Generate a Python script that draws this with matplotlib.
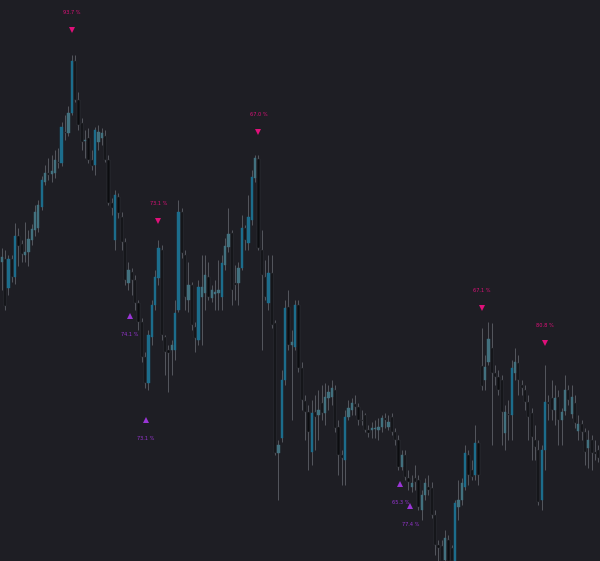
"""
Candlestick chart with swing-high / swing-low probability markers.
"""
import numpy as np
import matplotlib
matplotlib.use("Agg")
import matplotlib.pyplot as plt

opens = [338, 341, 312, 341, 323, 364, 356, 345, 348, 360, 370, 372, 393, 418, 427, 426, 427, 438, 437, 468,
         467, 487, 539, 500, 477, 459, 462, 440, 435, 458, 462, 464, 440, 397, 360, 403, 383, 358, 317, 328,
         320, 297, 278, 243, 217, 263, 295, 322, 350, 263, 250, 250, 250, 290, 388, 345, 300, 315, 273, 260,
         303, 307, 323, 302, 306, 307, 303, 335, 353, 367, 317, 317, 332, 372, 357, 380, 422, 441, 350, 323,
         297, 327, 277, 147, 162, 220, 293, 255, 253, 295, 232, 199, 188, 148, 188, 185, 197, 187, 202, 203,
         210, 173, 145, 140, 183, 190, 196, 193, 180, 185, 170, 170, 171, 170, 173, 182, 173, 183, 168, 160,
         133, 145, 122, 113, 122, 120, 90, 105, 113, 112, 85, 55, 54, 40, 60, 52, 39, 93, 100, 113,
         145, 130, 125, 157, 234, 220, 238, 252, 227, 223, 220, 167, 186, 185, 227, 237, 215, 210, 198, 187,
         160, 150, 100, 150, 198, 202, 190, 203, 180, 189, 210, 186, 197, 169, 176, 168, 152, 160, 148, 150]
highs = [352, 350, 345, 345, 377, 372, 360, 378, 370, 376, 395, 400, 424, 435, 442, 445, 450, 452, 478, 485,
         494, 545, 545, 508, 482, 470, 472, 450, 473, 475, 472, 470, 445, 402, 410, 407, 388, 362, 338, 332,
         325, 300, 282, 248, 270, 300, 330, 360, 355, 265, 255, 260, 300, 400, 392, 350, 338, 318, 278, 320,
         345, 345, 338, 315, 320, 340, 345, 362, 392, 370, 335, 338, 385, 375, 405, 430, 445, 445, 370, 340,
         345, 345, 280, 160, 230, 300, 310, 270, 300, 300, 238, 205, 195, 200, 205, 210, 215, 217, 215, 220,
         215, 180, 150, 190, 200, 202, 205, 197, 190, 187, 175, 178, 180, 182, 185, 187, 185, 187, 172, 165,
         150, 150, 130, 125, 135, 125, 110, 122, 125, 118, 90, 60, 60, 70, 65, 55, 100, 120, 122, 155,
         150, 140, 175, 160, 272, 245, 278, 277, 235, 230, 225, 195, 200, 240, 252, 245, 220, 215, 205, 192,
         175, 160, 155, 235, 205, 220, 215, 210, 192, 225, 215, 215, 205, 185, 180, 172, 170, 165, 160, 155]
lows = [310, 290, 305, 318, 316, 334, 338, 338, 334, 355, 364, 368, 390, 415, 420, 418, 422, 432, 434, 460,
        464, 485, 498, 470, 450, 442, 437, 430, 425, 450, 455, 438, 395, 385, 350, 382, 350, 315, 310, 305,
        290, 270, 238, 212, 210, 255, 290, 315, 260, 225, 208, 225, 240, 288, 342, 290, 288, 270, 248, 255,
        255, 290, 300, 298, 290, 290, 290, 330, 348, 295, 300, 295, 330, 350, 350, 375, 418, 350, 250, 300,
        290, 272, 145, 100, 158, 215, 250, 180, 250, 228, 190, 160, 130, 135, 150, 160, 180, 175, 190, 195,
        168, 125, 115, 115, 180, 185, 185, 175, 175, 168, 163, 162, 162, 160, 168, 172, 170, 165, 155, 130,
        130, 120, 110, 108, 110, 90, 80, 100, 105, 82, 45, 39, 35, 35, 35, 35, 35, 80, 95, 110,
        115, 120, 120, 115, 210, 210, 235, 155, 215, 205, 155, 150, 160, 160, 220, 205, 205, 190, 160, 140,
        140, 95, 90, 130, 180, 180, 175, 155, 155, 185, 195, 182, 172, 160, 160, 135, 132, 130, 140, 138]
closes = [343, 294, 341, 323, 364, 354, 346, 348, 361, 371, 388, 395, 420, 427, 425, 429, 440, 437, 473, 467,
          487, 539, 500, 475, 458, 460, 440, 434, 470, 468, 467, 440, 397, 392, 405, 387, 358, 320, 330, 320,
          297, 278, 243, 217, 265, 295, 323, 352, 265, 248, 247, 255, 287, 388, 347, 303, 315, 275, 262, 313,
          313, 325, 303, 310, 308, 310, 337, 354, 366, 310, 315, 332, 372, 360, 383, 423, 442, 352, 325, 303,
          327, 275, 147, 155, 220, 292, 255, 258, 295, 232, 200, 188, 168, 187, 183, 190, 187, 203, 208, 212,
          172, 145, 142, 183, 192, 197, 193, 180, 179, 170, 167, 172, 172, 173, 182, 180, 178, 168, 160, 133,
          145, 123, 118, 117, 118, 93, 105, 117, 110, 85, 55, 52, 39, 62, 39, 39, 97, 100, 117, 147,
          125, 123, 157, 125, 214, 233, 261, 227, 223, 210, 188, 188, 185, 232, 238, 220, 212, 198, 183, 163,
          153, 98, 150, 198, 196, 190, 202, 180, 188, 210, 200, 203, 177, 176, 168, 148, 160, 147, 146, 142]

# swing highs (pink) and swing lows (purple): candle index, marker level, label
top_idx = [21, 47, 77, 144, 163]
top_level = [570, 379, 468, 292, 257]
top_text = ["93.7 %", "73.1 %", "67.0 %", "67.1 %", "80.8 %"]
bot_idx = [38.5, 43.3, 119.6, 122.6]
bot_level = [284, 180, 116, 94]
bot_text = ["74.1 %", "73.1 %", "65.3 %", "77.4 %"]

BG = "#1e1e24"
UP = "#1c6d8c"
UP_SOFT = "#42717f"
DOWN = "#0c0d10"
WICK = "#55575e"
PINK = "#e0107a"
PURPLE = "#9a35d6"

o = np.array(opens)
h = np.array(highs)
l = np.array(lows)
c = np.array(closes)
x = np.arange(len(o))

fig = plt.figure(figsize=(6, 5.61), dpi=100, facecolor=BG)
ax = fig.add_axes([0, 0, 1, 1])
ax.set_facecolor(BG)

ax.vlines(x, l, h, color=WICK, linewidth=0.7, zorder=1)
up = c >= o
body = np.abs(c - o)
colors = np.where(up, np.where(body > 25, UP, UP_SOFT), DOWN)
edges = np.where(up, np.where(body > 25, UP, UP_SOFT), "#3a3b41")
ax.bar(x, np.maximum(body, 1.5), bottom=np.minimum(o, c), width=0.7,
       color=colors, edgecolor=edges, linewidth=0.3, zorder=2)

ax.plot(top_idx, top_level, "v", color=PINK, ms=4.5, mew=0, zorder=3)
for xi, yi, t in zip(top_idx, top_level, top_text):
    ax.text(xi, yi + 18, t, color=PINK, fontsize=3.6, ha="center", va="center")
ax.plot(bot_idx, bot_level, "^", color=PURPLE, ms=4.5, mew=0, zorder=3)
for xi, yi, t in zip(bot_idx, bot_level, bot_text):
    ax.text(xi, yi - 18, t, color=PURPLE, fontsize=3.6, ha="center", va="center")

ax.set_xlim(-0.5, len(o) - 0.5)
ax.set_ylim(39, 600)
ax.axis("off")

fig.savefig("out.png", dpi=100, facecolor=BG)
